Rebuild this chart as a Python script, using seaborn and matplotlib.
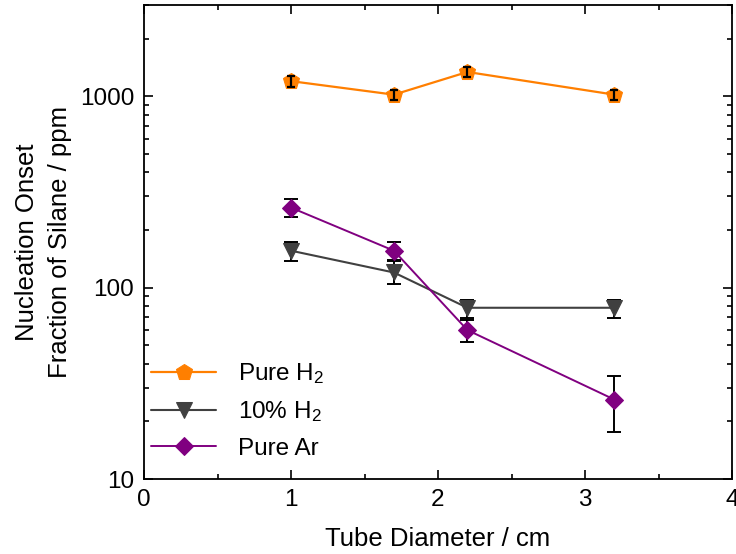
import numpy as np
import pandas as pd
import matplotlib
matplotlib.use("Agg")
import matplotlib.pyplot as plt
import matplotlib.ticker as mticker
import seaborn as sns

# ---- data ----
diameter = [1.0, 1.7, 2.2, 3.2]
pure_h2 = [1200, 1020, 1340, 1020]
pure_h2_err = [80, 65, 85, 65]
h2_10 = [156, 120, 78.5, 78.5]
h2_10_err_lo = [18, 15, 9, 9]
h2_10_err_hi = [18, 20, 8, 8]
pure_ar = [262, 156, 60, 26]
pure_ar_err = [27, 18, 8, 8.5]

series_names = ["Pure H$_2$", "10% H$_2$", "Pure Ar"]
x_ticks = [0, 1, 2, 3, 4]

sns.set_theme(style="ticks")
plt.rcParams['font.family'] = ['Liberation Sans', 'DejaVu Sans']
plt.rcParams['mathtext.fontset'] = 'custom'
plt.rcParams['mathtext.rm'] = 'Liberation Sans'
plt.rcParams['mathtext.it'] = 'Liberation Sans'
plt.rcParams['text.color'] = 'black'
plt.rcParams['axes.labelcolor'] = 'black'

fig = plt.figure(figsize=(7.36, 5.54), dpi=100)
ax = fig.add_axes([144/736, 1 - 479/554, (732-144)/736, (479-5)/554])

df = pd.DataFrame({
    "x": diameter * 3,
    "y": pure_h2 + h2_10 + pure_ar,
    "series": [series_names[0]] * 4 + [series_names[1]] * 4 + [series_names[2]] * 4,
})

styles = {
    series_names[0]: dict(color="#FF7F00", marker="p", ms=12, lw=1.6),
    series_names[1]: dict(color="#404040", marker="v", ms=12, lw=1.5),
    series_names[2]: dict(color="#800080", marker="D", ms=9.5, lw=1.4),
}

for name in series_names:
    sub = df[df["series"] == name]
    st = styles[name]
    sns.lineplot(data=sub, x="x", y="y", ax=ax, color=st["color"], marker=st["marker"],
                 markersize=st["ms"], markeredgecolor=st["color"], linewidth=st["lw"],
                 label=name, zorder=2)

ax.errorbar(diameter, pure_h2, yerr=pure_h2_err, fmt="none", ecolor="black",
            elinewidth=1.6, capsize=3, capthick=1.6, zorder=3)
ax.errorbar(diameter, h2_10, yerr=[h2_10_err_lo, h2_10_err_hi], fmt="none", ecolor="black",
            elinewidth=1.4, capsize=5, capthick=1.4, zorder=1)
ax.errorbar(diameter, pure_ar, yerr=pure_ar_err, fmt="none", ecolor="black",
            elinewidth=1.4, capsize=5, capthick=1.4, zorder=1)

ax.set_yscale("log")
ax.set_xlim(0, 4)
ax.set_ylim(10, 3000)
ax.set_xticks(x_ticks)
ax.xaxis.set_minor_locator(mticker.MultipleLocator(0.5))
ax.yaxis.set_major_locator(mticker.LogLocator(base=10, numticks=10))
ax.yaxis.set_major_formatter(mticker.FuncFormatter(lambda v, p: f"{v:g}"))
ax.yaxis.set_minor_locator(mticker.LogLocator(base=10, subs=np.arange(2, 10), numticks=20))
ax.yaxis.set_minor_formatter(mticker.NullFormatter())

ax.tick_params(which="both", direction="in", top=True, right=True, width=1.2, colors="black",
               labelsize=17.5, pad=7)
ax.tick_params(which="major", length=6.5)
ax.tick_params(which="minor", length=3.5)
for sp in ax.spines.values():
    sp.set_linewidth(1.3)
    sp.set_color("black")

ax.set_xlabel("Tube Diameter / cm", fontsize=18.5, labelpad=12)
ax.set_ylabel("Nucleation Onset\nFraction of Silane / ppm", fontsize=18.5, labelpad=6,
              linespacing=1.45)

leg = ax.legend(loc="lower left", bbox_to_anchor=(-0.005, 0.02), frameon=False, fontsize=17.5,
                handlelength=2.7, handletextpad=0.9, labelspacing=0.55, borderaxespad=0.0,
                borderpad=0.4)

fig.savefig("out.png", dpi=100)
